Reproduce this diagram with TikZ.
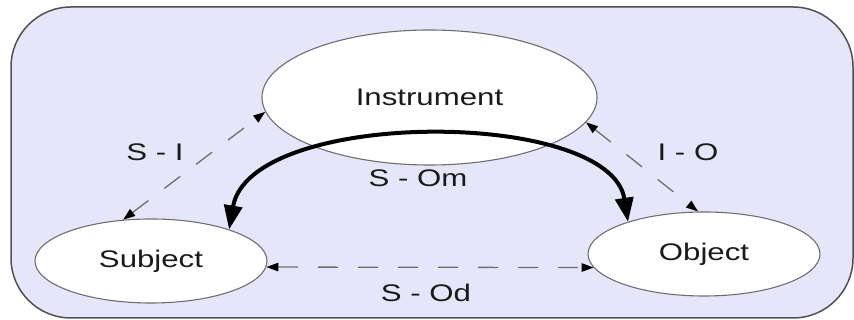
\documentclass[tikz,border=0pt]{standalone}
\usepackage{fontspec}
\setmainfont{Liberation Sans}
\usetikzlibrary{arrows.meta,shapes.geometric}
\definecolor{panel}{HTML}{E6E6FA}
\definecolor{framegray}{HTML}{505050}
\definecolor{rim}{HTML}{6E6E6E}
\definecolor{ink}{HTML}{1A1A1A}
\newcommand{\wide}[1]{\scalebox{1.3}[1]{#1}}
\tikzset{
  ent/.style={
    ellipse, draw=rim, fill=white, line width=1.1pt,
    inner sep=0pt, text=ink, font=\fontsize{24}{28}\selectfont
  },
  lbl/.style={text=ink, inner sep=0pt, font=\fontsize{24}{28}\selectfont},
  dasharr/.style={
    {Triangle[length=12pt,width=8.5pt,color=black]}-{Triangle[length=12pt,width=8.5pt,color=black]},
    draw=rim, line width=1.3pt, dash pattern=on 20pt off 20pt
  },
  bigarr/.style={
    {Triangle[length=24pt,width=18pt]}-{Triangle[length=24pt,width=18pt]},
    draw=black, line width=4pt
  }
}
\begin{document}
\begin{tikzpicture}[x=1pt,y=1pt]
  \useasboundingbox (0,0) rectangle (854,320);
  \draw[draw=framegray, fill=panel, line width=1.5pt, rounded corners=60pt] (11,2) rectangle (853,313);
  % the three ellipses
  \node[ent, minimum width=335pt, minimum height=135pt] (inst) at (429.5,222.5) {\wide{Instrument}};
  \node[ent, minimum width=232pt, minimum height=84pt] (subj) at (151,59) {\wide{Subject}};
  \node[ent, minimum width=232pt, minimum height=84pt] (obj) at (704,66) {\wide{Object}};
  % relations
  \draw[dasharr] (subj.124) -- (inst.185);
  \draw[dasharr] (inst.351) -- (obj.98);
  \draw[dasharr] (subj.-3) -- (obj.187);
  \draw[bigarr] (subj.22) .. controls (250,212) and (610,212) .. (obj.157);
  \node[lbl] (si) at (155,168) {\wide{S - I}};
  \node[lbl] (io) at (688,168) {\wide{I - O}};
  \node[lbl] (som) at (418,142) {\wide{S - Om}};
  \node[lbl] (sod) at (426,27) {\wide{S - Od}};
\end{tikzpicture}
\end{document}
